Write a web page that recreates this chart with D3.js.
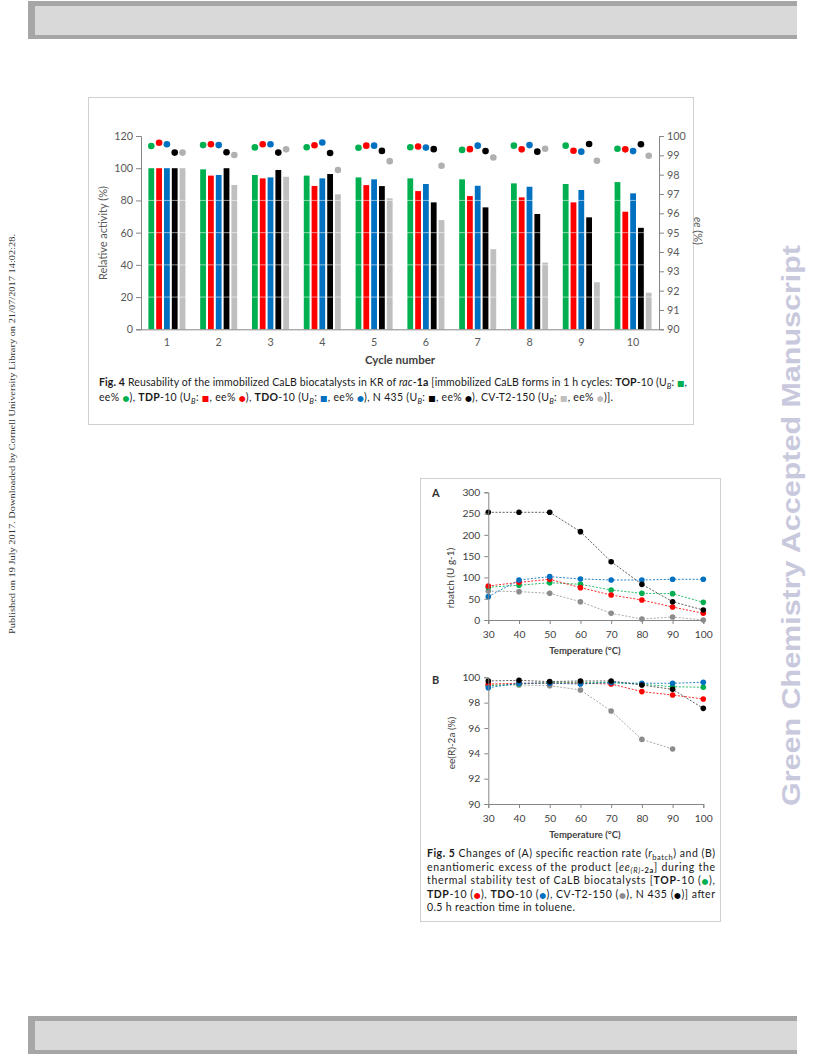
<!DOCTYPE html>
<html><head><meta charset="utf-8">
<script src="https://cdn.jsdelivr.net/npm/d3@7"></script>
<style>body{margin:0;background:#fff}svg{display:block}text{font-family:Lato,"Open Sans",sans-serif}</style>
</head><body><svg id="page" width="816" height="1056"></svg>
<script>
// ---------- Fig. 4 data ----------
const cycles = ["1","2","3","4","5","6","7","8","9","10"];
const series4 = ["TOP-10","TDP-10","TDO-10","N 435","CV-T2-150"];
const actTOP  = [100, 99.3, 95.8, 95.4, 94.3, 93.7, 93.1, 90.6, 90.2, 91.4];
const actTDP  = [100, 95.4, 93.7, 89.0, 89.5, 85.8, 82.7, 81.9, 78.8, 73.0];
const actTDO  = [100, 95.8, 94.3, 93.7, 93.1, 90.2, 89.1, 88.5, 86.5, 84.4];
const actN435 = [100, 100, 98.9, 96.4, 88.9, 78.8, 75.7, 71.6, 69.5, 63.0];
const actCV   = [100, 89.6, 94.7, 83.8, 81.3, 67.8, 49.7, 41.4, 29.2, 22.7];
const eeTOP   = [99.48, 99.53, 99.41, 99.42, 99.39, 99.42, 99.28, 99.50, 99.50, 99.34];
const eeTDP   = [99.65, 99.57, 99.57, 99.52, 99.50, 99.46, 99.32, 99.31, 99.24, 99.31];
const eeTDO   = [99.57, 99.53, 99.57, 99.66, 99.50, 99.40, 99.50, 99.53, 99.19, 99.22];
const eeN435  = [99.14, 99.16, 99.14, 99.12, 99.23, 99.32, 99.22, 99.19, 99.59, 99.57];
const eeCV    = [99.14, 99.02, 99.31, 98.24, 98.70, 98.46, 98.89, 99.34, 98.72, 98.98];
const ticksLeft4 = [0, 20, 40, 60, 80, 100, 120];
const ticksRight4 = [90, 91, 92, 93, 94, 95, 96, 97, 98, 99, 100];

// ---------- Fig. 5 data ----------
const temps = [30, 40, 50, 60, 70, 80, 90, 100];
const rTOP  = [77, 81.5, 87.7, 83.8, 70.5, 62.7, 61.9, 41.5];
const rTDP  = [79.9, 88.5, 95.6, 76.0, 58.7, 47.0, 30.5, 15.7];
const rTDO  = [54.8, 94.0, 101.8, 96.3, 94.0, 94.0, 95.6, 95.6];
const rCV   = [68.0, 66.6, 62.7, 43.0, 15.7, 2.3, 7.0, 0];
const rN435 = [253, 253, 253, 207.6, 137, 83.8, 43, 23.5];
const eTOP  = [99.34, 99.47, 99.60, 99.60, 99.58, 99.45, 99.26, 99.21];
const eTDP  = [99.47, 99.53, 99.53, 99.53, 99.47, 98.87, 98.60, 98.29];
const eTDO  = [99.18, 99.53, 99.53, 99.47, 99.58, 99.53, 99.53, 99.61];
const eCV   = [99.39, 99.39, 99.34, 99.00, 97.34, 95.10, 94.34, null];
const eN435 = [99.71, 99.76, 99.66, 99.71, 99.71, 99.39, 99.05, 97.55];
const ticksA = [0, 50, 100, 150, 200, 250, 300];
const ticksB = [90, 92, 94, 96, 98, 100];

const C = {green:"#00b050", red:"#ff0000", blue:"#0070c0", black:"#000000", gray:"#bfbfbf"};
const colors4 = [C.green, C.red, C.blue, C.black, C.gray];
const dotColors4 = [C.green, C.red, C.blue, C.black, "#b0b0b0"];

const svg = d3.select("#page");

// ---------- page furniture ----------
function bar(y0, h) {
  svg.append("rect").attr("x",28).attr("y",y0).attr("width",769).attr("height",h).attr("fill","#a6a6a6");
  svg.append("rect").attr("x",35).attr("y",y0+5).attr("width",762).attr("height",h-9).attr("fill","#d9d9d9");
}
bar(1, 38);
bar(1016, 38);

svg.append("text").attr("transform","translate(15,634) rotate(-90)")
  .style("font-family","'Liberation Serif',serif")
  .attr("font-size",9).attr("fill","#333").attr("textLength",400).attr("lengthAdjust","spacingAndGlyphs")
  .text("Published on 19 July 2017. Downloaded by Cornell University Library on 21/07/2017 14:02:28.");

svg.append("text").attr("transform","translate(800,806) rotate(-90)")
  .style("font-family","'Liberation Sans',Arial,sans-serif").attr("font-weight","bold")
  .attr("font-size",26).attr("fill","#c9c9dd").attr("textLength",561).attr("lengthAdjust","spacingAndGlyphs")
  .text("Green Chemistry Accepted Manuscript");

// ---------- rich text helper ----------
function rich(x, y, segs, size, len) {
  const t = svg.append("text").attr("x",x).attr("y",y).attr("font-size",size).attr("fill","#1a1a1a");
  let shifted = 0;
  segs.forEach(s => {
    if (typeof s === "string") s = {t:s};
    const ts = t.append("tspan").text(s.t);
    if (s.b) ts.attr("font-weight","bold");
    if (s.i) ts.attr("font-style","italic");
    if (s.c) ts.attr("fill", s.c);
    const want = s.sub ? 2.5 : 0;
    if (want !== shifted) { ts.attr("dy", want - shifted); shifted = want; }
    if (s.sub) ts.attr("font-size", size*0.72);
    if (s.sym) ts.attr("font-size", size*0.75).style("font-family","'DejaVu Sans',sans-serif");
  });
  if (len) t.attr("textLength",len).attr("lengthAdjust","spacing");
  return t;
}

// ---------- Fig. 4 ----------
svg.append("rect").attr("x",88.5).attr("y",97.5).attr("width",605).attr("height",327)
  .attr("fill","none").attr("stroke","#d0d0d0");

const x4 = d3.scaleBand().domain(cycles).range([141,659]).paddingInner(0.24).paddingOuter(0.12);
const xs4 = d3.scaleBand().domain(series4).range([0, x4.bandwidth()]).paddingInner(0.26).paddingOuter(0.15);
const yL = d3.scaleLinear().domain([0,120]).range([329.3,136]);
const yR = d3.scaleLinear().domain([90,100]).range([329.3,136]);

const acts = [actTOP, actTDP, actTDO, actN435, actCV];
const ees = [eeTOP, eeTDP, eeTDO, eeN435, eeCV];

const g4 = svg.append("g");
series4.forEach((s, si) => {
  g4.selectAll(null).data(acts[si]).enter().append("rect")
    .attr("x", (d,i) => x4(cycles[i]) + xs4(s))
    .attr("width", xs4.bandwidth())
    .attr("y", d => yL(d))
    .attr("height", d => yL(0) - yL(d))
    .attr("fill", colors4[si]);
});
// faint white scan lines at gridline levels
g4.selectAll(null).data([20,40,60,80]).enter().append("line")
  .attr("x1",141).attr("x2",659).attr("y1",d=>yL(d)).attr("y2",d=>yL(d))
  .attr("stroke","#fff").attr("stroke-opacity",0.55).attr("stroke-width",1);
series4.forEach((s, si) => {
  g4.selectAll(null).data(ees[si]).enter().append("circle")
    .attr("cx", (d,i) => x4(cycles[i]) + xs4(s) + xs4.bandwidth()/2)
    .attr("cy", d => yR(d))
    .attr("r", 3.3)
    .attr("fill", dotColors4[si]);
});

const axL = svg.append("g").attr("transform","translate(141,0)")
  .call(d3.axisLeft(yL).tickValues(ticksLeft4).tickSize(5).tickPadding(3));
const axR = svg.append("g").attr("transform","translate(659,0)")
  .call(d3.axisRight(yR).tickValues(ticksRight4).tickSize(5).tickPadding(3));
const axB = svg.append("g").attr("transform","translate(0,329.3)")
  .call(d3.axisBottom(x4).tickSize(0).tickPadding(9));
[axL, axR, axB].forEach(a => {
  a.selectAll("path,line").attr("stroke","#868686");
  a.selectAll("text").attr("font-size",10.8).attr("fill","#595959").style("font-family","Lato,sans-serif");
});
axB.select(".domain").attr("d","M141,0.5H659");

svg.append("text").attr("transform","translate(107,233) rotate(-90)").attr("text-anchor","middle")
  .attr("font-size",11).attr("fill","#595959").text("Relative activity (%)");
const eeT = svg.append("text").attr("transform","translate(694,231) rotate(90)").attr("text-anchor","middle")
  .attr("font-size",11).attr("fill","#595959");
eeT.append("tspan").attr("font-style","italic").text("ee");
eeT.append("tspan").text(" (%)");
svg.append("text").attr("x",400).attr("y",364).attr("text-anchor","middle")
  .attr("font-size",11.5).attr("font-weight","bold").attr("fill","#404040").text("Cycle number");

const sq = c => ({t:"■", c:c, sym:1});
const dt = c => ({t:"●", c:c, sym:1});
const UB = {t:"B", i:1, sub:1};
rich(99, 386, [{t:"Fig. 4",b:1}," Reusability of the immobilized CaLB biocatalysts in KR of ",{t:"rac",i:1},"-",{t:"1a",b:1},
  " [immobilized CaLB forms in 1 h cycles: ",{t:"TOP",b:1},"-10 (U",UB,": ",sq(C.green),","], 10.5, 588);
rich(99, 401, ["ee% ",dt(C.green),"), ",{t:"TDP",b:1},"-10 (U",UB,": ",sq(C.red),", ee% ",dt(C.red),"), ",
  {t:"TDO",b:1},"-10 (U",UB,": ",sq(C.blue),", ee% ",dt(C.blue),"), N 435 (U",UB,": ",sq(C.black),", ee% ",dt(C.black),
  "), CV-T2-150 (U",UB,": ",sq("#bfbfbf"),", ee% ",dt("#bfbfbf"),")]."], 10.5, 514);

// ---------- Fig. 5 ----------
svg.append("rect").attr("x",420.5).attr("y",478.5).attr("width",300).attr("height",443)
  .attr("fill","none").attr("stroke","#d0d0d0");

const x5 = d3.scaleLinear().domain([30,100]).range([488.3,703.3]);
const yA = d3.scaleLinear().domain([0,300]).range([620,492.3]);
const yB = d3.scaleLinear().domain([90,100]).range([804,677.3]);

const lineColors5 = ["#9a9a9a", C.green, C.red, C.blue, "#404040"];
const markColors5 = ["#8c8c8c", C.green, C.red, C.blue, "#000000"];

function panel(yScale, data, ticks, label, lx, ly, letter, letterY) {
  const g = svg.append("g");
  data.forEach((vals, si) => {
    const pts = temps.map((t,i) => [t, vals[i]]).filter(p => p[1] !== null);
    g.append("path").datum(pts)
      .attr("d", d3.line().x(p => x5(p[0])).y(p => yScale(p[1])))
      .attr("fill","none").attr("stroke", lineColors5[si]).attr("stroke-width",1)
      .attr("stroke-dasharray","2,1.6").attr("stroke-opacity",0.85);
    g.selectAll(null).data(pts).enter().append("circle")
      .attr("cx", p => x5(p[0])).attr("cy", p => yScale(p[1])).attr("r", 2.8)
      .attr("fill", markColors5[si]);
  });
  const ay = svg.append("g").attr("transform","translate(488.3,0)")
    .call(d3.axisLeft(yScale).tickValues(ticks).tickSize(4).tickPadding(4));
  const ax = svg.append("g").attr("transform",`translate(0,${yScale.range()[0]})`)
    .call(d3.axisBottom(x5).tickValues(temps).tickSize(4).tickPadding(7));
  [ay, ax].forEach(a => {
    a.selectAll("path,line").attr("stroke","#868686");
    a.selectAll("text").attr("font-size",10.3).attr("fill","#404040").style("font-family","Lato,sans-serif");
  });
  svg.append("text").attr("x",585).attr("y",yScale.range()[0]+34).attr("text-anchor","middle")
    .attr("font-size",9.5).attr("font-weight","bold").attr("fill","#404040").text("Temperature (°C)");
  svg.append("text").attr("transform",`translate(${lx},${ly}) rotate(-90)`).attr("text-anchor","middle")
    .attr("font-size",10).attr("fill","#404040").text(label);
  svg.append("text").attr("x",432).attr("y",letterY).attr("font-size",11).attr("font-weight","bold")
    .attr("fill","#333").text(letter);
}
panel(yA, [rCV, rTOP, rTDP, rTDO, rN435], ticksA, "rbatch  (U g-1)", 454, 578, "A", 497);
panel(yB, [eCV, eTOP, eTDP, eTDO, eN435], ticksB, "ee(R)-2a (%)", 455, 743, "B", 684);

rich(427, 857, [{t:"Fig. 5",b:1}," Changes of (A) specific reaction rate (",{t:"r",i:1},{t:"batch",sub:1},") and (B)"], 10.5, 288);
rich(427, 870.6, ["enantiomeric excess of the product [",{t:"ee",i:1},{t:"(R)",i:1,sub:1},{t:"-2a",b:1,sub:1},"] during the"], 10.5, 288);
rich(427, 884.2, ["thermal stability test of CaLB biocatalysts [",{t:"TOP",b:1},"-10 (",dt(C.green),"),"], 10.5, 288);
rich(427, 897.8, [{t:"TDP",b:1},"-10 (",dt(C.red),"), ",{t:"TDO",b:1},"-10 (",dt(C.blue),"), CV-T2-150 (",dt("#8c8c8c"),"), N 435 (",dt(C.black),")] after"], 10.5, 288);
rich(427, 911.4, ["0.5 h reaction time in toluene."], 10.5, 148);
</script></body></html>
